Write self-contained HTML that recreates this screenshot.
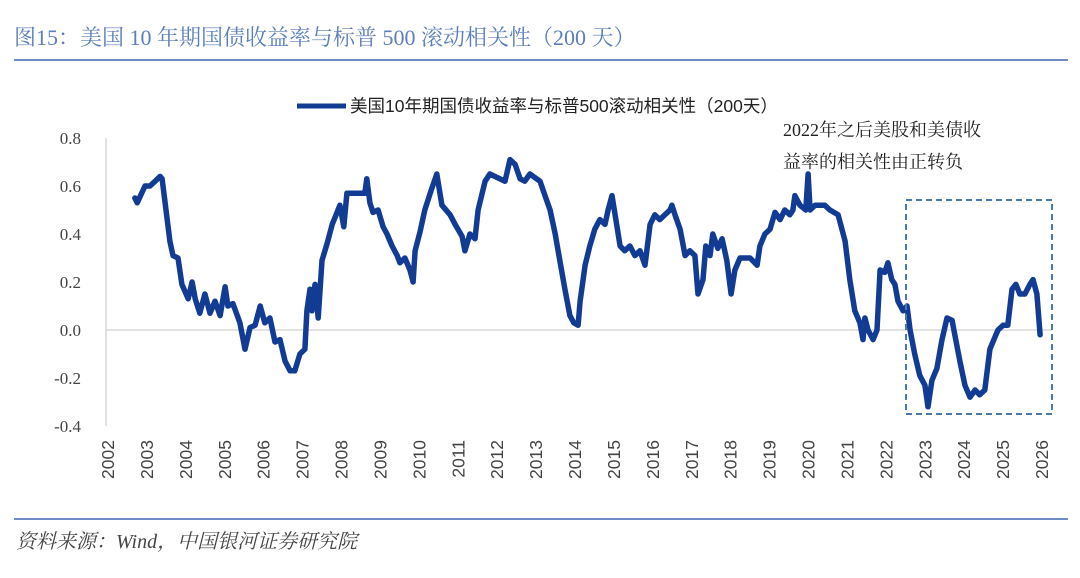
<!DOCTYPE html>
<html><head><meta charset="utf-8">
<style>
body{margin:0;background:#fff;width:1080px;height:578px;overflow:hidden;}
svg{display:block;}
</style></head>
<body>
<svg width="1080" height="578" xmlns="http://www.w3.org/2000/svg">
<text x="14" y="45" font-family="'Liberation Serif','Noto Serif CJK SC',serif" font-size="22" fill="#5b7fb8">图15：美国 10 年期国债收益率与标普 500 滚动相关性（200 天）</text>
<line x1="14" y1="60" x2="1068" y2="60" stroke="#6f8cc4" stroke-width="2"/>
<line x1="297" y1="106" x2="346" y2="106" stroke="#123c93" stroke-width="5"/>
<text x="350" y="112" font-family="'Liberation Sans','Noto Sans CJK SC',sans-serif" font-size="17.5" fill="#222">美国10年期国债收益率与标普500滚动相关性（200天）</text>
<text x="783" y="136" font-family="'Liberation Serif','Noto Serif CJK SC',serif" font-size="18" fill="#222">2022年之后美股和美债收</text>
<text x="783" y="168" font-family="'Liberation Serif','Noto Serif CJK SC',serif" font-size="18" fill="#222">益率的相关性由正转负</text>
<g id="axes"></g>
<g id="series"></g>
<rect x="906" y="200" width="146" height="214" fill="none" stroke="#4a7aa8" stroke-width="2" stroke-dasharray="6,4"/>
<line x1="14" y1="519" x2="1068" y2="519" stroke="#6f8cc4" stroke-width="2"/>
<text x="16" y="548" font-family="'Liberation Serif','Noto Serif CJK SC',serif" font-style="italic" font-size="20" fill="#444">资料来源：Wind，中国银河证券研究院</text>
</svg>
<script>
const yearTicks=[2002,2003,2004,2005,2006,2007,2008,2009,2010,2011,2012,2013,2014,2015,2016,2017,2018,2019,2020,2021,2022,2023,2024,2025,2026];
const valueTicks=[0.8,0.6,0.4,0.2,0.0,-0.2,-0.4];
const dates=[2002.69,2002.75,2002.95,2003.08,2003.21,2003.34,2003.39,2003.46,2003.59,2003.67,2003.80,2003.90,2004.06,2004.16,2004.24,2004.36,2004.49,2004.62,2004.75,2004.88,2005.01,2005.08,2005.21,2005.39,2005.52,2005.65,2005.78,2005.91,2006.03,2006.16,2006.29,2006.42,2006.55,2006.68,2006.80,2006.93,2007.06,2007.11,2007.19,2007.24,2007.32,2007.40,2007.50,2007.63,2007.76,2007.86,2007.96,2008.06,2008.14,2008.35,2008.60,2008.65,2008.73,2008.81,2008.94,2009.07,2009.17,2009.30,2009.43,2009.50,2009.63,2009.76,2009.84,2009.89,2010.02,2010.14,2010.30,2010.45,2010.58,2010.79,2010.92,2011.10,2011.17,2011.30,2011.43,2011.51,2011.69,2011.81,2011.94,2012.20,2012.33,2012.46,2012.59,2012.71,2012.84,2013.10,2013.23,2013.36,2013.49,2013.61,2013.74,2013.87,2013.97,2014.08,2014.13,2014.26,2014.38,2014.51,2014.64,2014.77,2014.85,2014.95,2015.03,2015.16,2015.28,2015.41,2015.54,2015.67,2015.80,2015.93,2016.05,2016.18,2016.31,2016.44,2016.49,2016.57,2016.70,2016.83,2016.95,2017.08,2017.16,2017.29,2017.36,2017.47,2017.54,2017.67,2017.78,2017.90,2018.01,2018.11,2018.24,2018.50,2018.68,2018.75,2018.88,2019.01,2019.14,2019.27,2019.39,2019.52,2019.60,2019.65,2019.78,2019.93,2019.99,2020.04,2020.17,2020.29,2020.42,2020.55,2020.76,2020.94,2021.06,2021.19,2021.32,2021.40,2021.45,2021.53,2021.66,2021.76,2021.84,2021.96,2022.04,2022.14,2022.22,2022.30,2022.43,2022.53,2022.61,2022.73,2022.86,2022.99,2023.07,2023.17,2023.30,2023.43,2023.56,2023.69,2023.76,2023.89,2024.02,2024.15,2024.28,2024.40,2024.53,2024.66,2024.79,2024.87,2025.00,2025.12,2025.23,2025.33,2025.43,2025.56,2025.69,2025.77,2025.87,2025.95];
const values=[0.55,0.53,0.60,0.60,0.62,0.64,0.63,0.54,0.37,0.31,0.30,0.19,0.13,0.20,0.13,0.07,0.15,0.07,0.12,0.06,0.18,0.10,0.11,0.03,-0.08,0.01,0.02,0.10,0.03,0.05,-0.05,-0.04,-0.13,-0.17,-0.17,-0.10,-0.08,0.08,0.17,0.08,0.19,0.05,0.29,0.36,0.44,0.48,0.52,0.43,0.57,0.57,0.57,0.63,0.53,0.49,0.50,0.43,0.40,0.35,0.31,0.28,0.30,0.25,0.20,0.33,0.41,0.50,0.58,0.65,0.52,0.48,0.44,0.39,0.33,0.40,0.38,0.50,0.62,0.65,0.64,0.62,0.71,0.69,0.63,0.62,0.65,0.62,0.56,0.50,0.40,0.29,0.17,0.06,0.03,0.02,0.12,0.27,0.35,0.42,0.46,0.44,0.50,0.56,0.48,0.35,0.33,0.35,0.31,0.33,0.27,0.44,0.48,0.46,0.48,0.50,0.52,0.48,0.42,0.31,0.33,0.31,0.15,0.21,0.35,0.31,0.40,0.34,0.38,0.29,0.15,0.25,0.30,0.30,0.27,0.35,0.40,0.42,0.49,0.46,0.50,0.48,0.50,0.56,0.52,0.50,0.65,0.50,0.52,0.52,0.52,0.50,0.48,0.37,0.21,0.08,0.03,-0.04,0.05,0.00,-0.04,0.00,0.25,0.24,0.28,0.21,0.19,0.12,0.08,0.10,0.00,-0.10,-0.19,-0.23,-0.32,-0.21,-0.16,-0.04,0.05,0.04,-0.02,-0.13,-0.23,-0.28,-0.25,-0.27,-0.25,-0.08,-0.03,0.00,0.02,0.02,0.17,0.19,0.15,0.15,0.19,0.21,0.15,-0.02];
const NS='http://www.w3.org/2000/svg';
const X0=108,X1=1042,Y0=330,PER=240;
function xScale(yr){return X0+(yr-2002)*(X1-X0)/24;}
function yScale(v){return Y0-v*PER;}
const axes=document.getElementById('axes');
function mk(tag,attrs,parent){const e=document.createElementNS(NS,tag);for(const k in attrs)e.setAttribute(k,attrs[k]);parent.appendChild(e);return e;}
const yAxis=mk('line',{x1:106,y1:yScale(0.8),x2:106,y2:yScale(-0.4),stroke:'#d9d9d9','stroke-width':1.5},axes);


const zero=mk('line',{x1:106,y1:yScale(0),x2:1052,y2:yScale(0),stroke:'#d9d9d9','stroke-width':1.5},axes);


valueTicks.forEach(v=>{
  const t=mk('text',{x:81,y:yScale(v)+6,'text-anchor':'end','font-family':"'Liberation Serif',serif",'font-size':17,fill:'#444'},axes);
  t.textContent=v.toFixed(1);
  
  
});
yearTicks.forEach(yr=>{
  const x=xScale(yr);
  const t=mk('text',{x:0,y:0,'text-anchor':'end','font-family':"'Liberation Sans',sans-serif",'font-size':17.5,fill:'#444',transform:`translate(${x+6},440) rotate(-90)`},axes);
  t.textContent=yr;
  
  
});
const pts=dates.map((d,i)=>xScale(d).toFixed(1)+','+yScale(values[i]).toFixed(1)).join(' ');
const line=mk('polyline',{points:pts,fill:'none',stroke:'#123c93','stroke-width':5.5,'stroke-linejoin':'round','stroke-linecap':'round'},document.getElementById('series'));


</script>
</body></html>
